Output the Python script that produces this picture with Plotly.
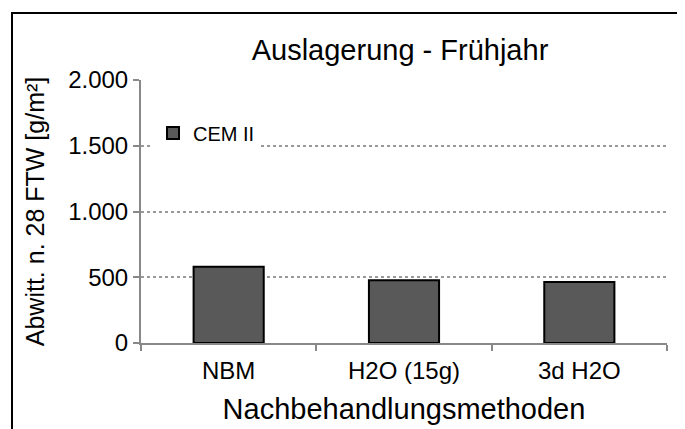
import plotly.graph_objects as go

categories = ["NBM", "H2O (15g)", "3d H2O"]
values_cem2 = [580, 478, 463]
series_name = "CEM II"
ytick_vals = [0, 500, 1000, 1500, 2000]
ytick_text = ["0", "500", "1.000", "1.500", "2.000"]

# page body offset of 8px is compensated in the margins
L, T, R, B = 133, 72, 26, 94
W, H = 685, 429
PW = W - L - R
PH = H - T - B

fig = go.Figure()
fig.add_trace(go.Bar(
    x=categories, y=values_cem2, name=series_name,
    marker=dict(color="#595959", line=dict(color="#000000", width=2)),
    showlegend=True,
))

font_family = "Liberation Sans, Arial, sans-serif"
fig.update_layout(
    width=W, height=H,
    margin=dict(l=L, r=R, t=T, b=B),
    paper_bgcolor="white", plot_bgcolor="white",
    font=dict(family=font_family, color="#000000", size=22),
    bargap=0.6,
    title=dict(text="Auslagerung - Frühjahr", x=(400 - 8) / W, xanchor="center",
               y=1 - (50 - 8) / H, yanchor="middle", font=dict(size=29)),
    showlegend=True,
    legend=dict(x=(153 - 8 - L) / PW, y=(T + PH - (133 - 8)) / PH,
                xanchor="left", yanchor="middle",
                bgcolor="white", font=dict(size=20), itemwidth=30,
                entrywidth=110, borderwidth=0),
    xaxis=dict(
        showline=True, linecolor="#888888", linewidth=2,
        ticks="outside", tickson="boundaries", ticklen=6, tickcolor="#888888", tickwidth=2,
        tickfont=dict(size=24), ticklabelstandoff=5,
        title=dict(text="Nachbehandlungsmethoden", font=dict(size=29), standoff=16),
        showgrid=False,
    ),
    yaxis=dict(
        range=[0, 2000], tickvals=ytick_vals, ticktext=ytick_text,
        showline=True, linecolor="#888888", linewidth=2,
        ticks="outside", ticklen=6, tickcolor="#888888", tickwidth=2,
        tickfont=dict(size=24),
        showgrid=True, gridcolor="#999999", griddash="dot", gridwidth=1.5,
        title=dict(text="Abwitt. n. 28 FTW [g/m²]", font=dict(size=25), standoff=16),
        zeroline=False,
    ),
    shapes=[dict(type="rect", xref="paper", yref="paper",
                 x0=(12 - 8 - L) / PW, x1=(683 - 8 - L) / PW,
                 y0=-0.6, y1=(T + PH - (13 - 8)) / PH,
                 line=dict(color="#000000", width=2), fillcolor="rgba(0,0,0,0)",
                 layer="below")],
)

fig.write_html("out.html")
